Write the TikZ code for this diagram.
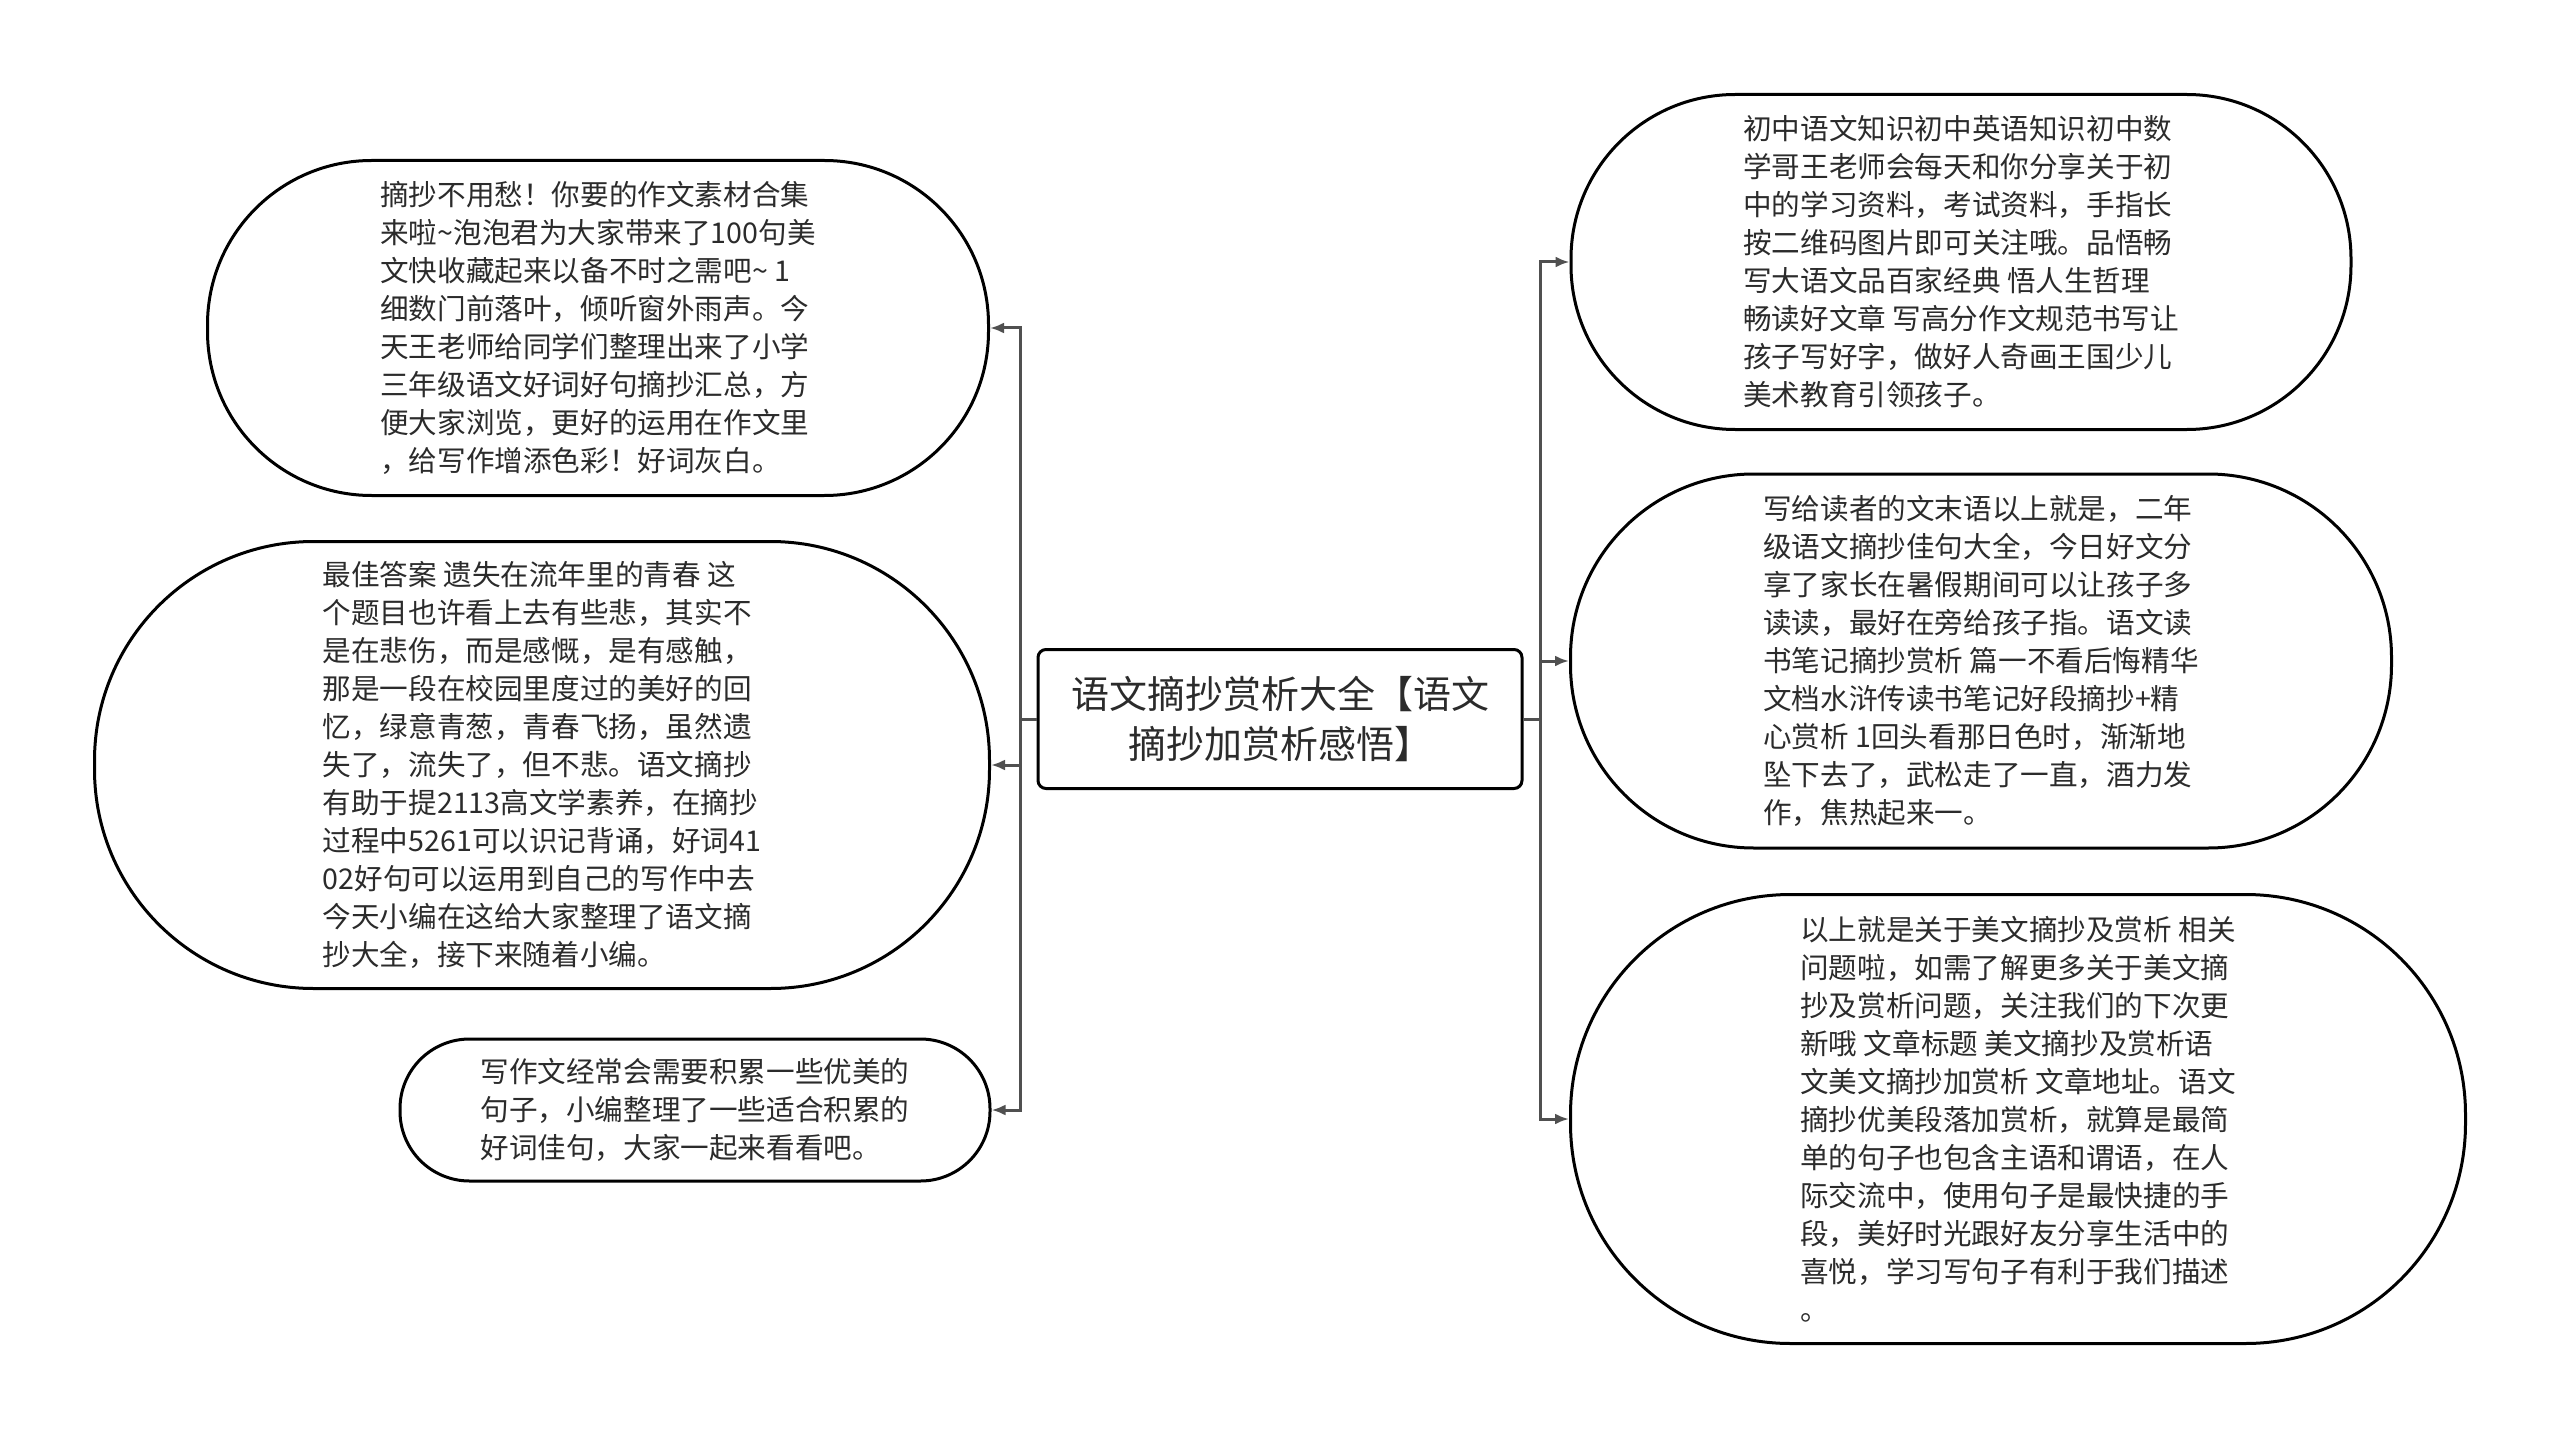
\documentclass[tikz,border=0pt]{standalone}
\usepackage{fontspec}
\setmainfont{Noto Sans CJK SC}
\usetikzlibrary{arrows.meta}
\definecolor{mmLine}{HTML}{505050}
\definecolor{mmText}{HTML}{2B2B2B}

\begin{document}
\begin{tikzpicture}[
  x=0.5pt, y=-0.5pt,
  bubble/.style 2 args={draw=black, line width=1.5pt, fill=white, text=mmText, minimum width=#1,
    minimum height=#2, rounded corners=0.49*#2, align=left, inner sep=0pt,
    font=\fontsize{14.3pt}{19pt}\selectfont},
  topic/.style ={draw=black, line width=1.5pt, rounded corners=4pt, minimum width=242pt,
    minimum height=69.5pt, align=center, text=mmText, font=\fontsize{19pt}{25pt}\selectfont},
  link/.style  ={draw=mmLine, line width=1.5pt, -{Latex[length=7pt,width=5.5pt]}}]
  \useasboundingbox (0,0) rectangle (2560,1439);
  \node[topic] (main) at (1280,719) {语文摘抄赏析大全【语文\\摘抄加赏析感悟】};
  \coordinate (lt) at (1020,719);
  \coordinate (rt) at (1540,719);

  \node[bubble={390.5pt}{167.5pt}] (l1) at (598,328) {摘抄不用愁！你要的作文素材合集\\
来啦\textasciitilde 泡泡君为大家带来了100句美\\
文快收藏起来以备不时之需吧\textasciitilde{} 1\\
细数门前落叶，倾听窗外雨声。今\\
天王老师给同学们整理出来了小学\\
三年级语文好词好句摘抄汇总，方\\
便大家浏览，更好的运用在作文里\\
，给写作增添色彩！好词灰白。};
  \node[bubble={447.5pt}{223.5pt}] (l2) at (542,765) {最佳答案 遗失在流年里的青春 这\\
个题目也许看上去有些悲，其实不\\
是在悲伤，而是感慨，是有感触，\\
那是一段在校园里度过的美好的回\\
忆，绿意青葱，青春飞扬，虽然遗\\
失了，流失了，但不悲。语文摘抄\\
有助于提2113高文学素养，在摘抄\\
过程中5261可以识记背诵，好词41\\
02好句可以运用到自己的写作中去\\
今天小编在这给大家整理了语文摘\\
抄大全，接下来随着小编。};
  \node[bubble={295pt}{71pt}] (l3) at (695,1110) {写作文经常会需要积累一些优美的\\
句子，小编整理了一些适合积累的\\
好词佳句，大家一起来看看吧。};

  \node[bubble={390pt}{167.5pt}] (r1) at (1961,262) {初中语文知识初中英语知识初中数\\
学哥王老师会每天和你分享关于初\\
中的学习资料，考试资料，手指长\\
按二维码图片即可关注哦。品悟畅\\
写大语文品百家经典 悟人生哲理\\
畅读好文章 写高分作文规范书写让\\
孩子写好字，做好人奇画王国少儿\\
美术教育引领孩子。};
  \node[bubble={410.5pt}{187pt}] (r2) at (1981,661) {写给读者的文末语以上就是，二年\\
级语文摘抄佳句大全，今日好文分\\
享了家长在暑假期间可以让孩子多\\
读读，最好在旁给孩子指。语文读\\
书笔记摘抄赏析 篇一不看后悔精华\\
文档水浒传读书笔记好段摘抄+精\\
心赏析 1回头看那日色时，渐渐地\\
坠下去了，武松走了一直，酒力发\\
作，焦热起来一。};
  \node[bubble={447.5pt}{224.5pt}] (r3) at (2018,1119) {以上就是关于美文摘抄及赏析 相关\\
问题啦，如需了解更多关于美文摘\\
抄及赏析问题，关注我们的下次更\\
新哦 文章标题 美文摘抄及赏析语\\
文美文摘抄加赏析 文章地址。语文\\
摘抄优美段落加赏析，就算是最简\\
单的句子也包含主语和谓语，在人\\
际交流中，使用句子是最快捷的手\\
段，美好时光跟好友分享生活中的\\
喜悦，学习写句子有利于我们描述\\
。};

  \foreach \n in {l1,l2,l3} \draw[link] (main.west) -- (lt) |- (\n.east);
  \foreach \n in {r1,r2,r3} \draw[link] (main.east) -- (rt) |- (\n.west);
\end{tikzpicture}
\end{document}
